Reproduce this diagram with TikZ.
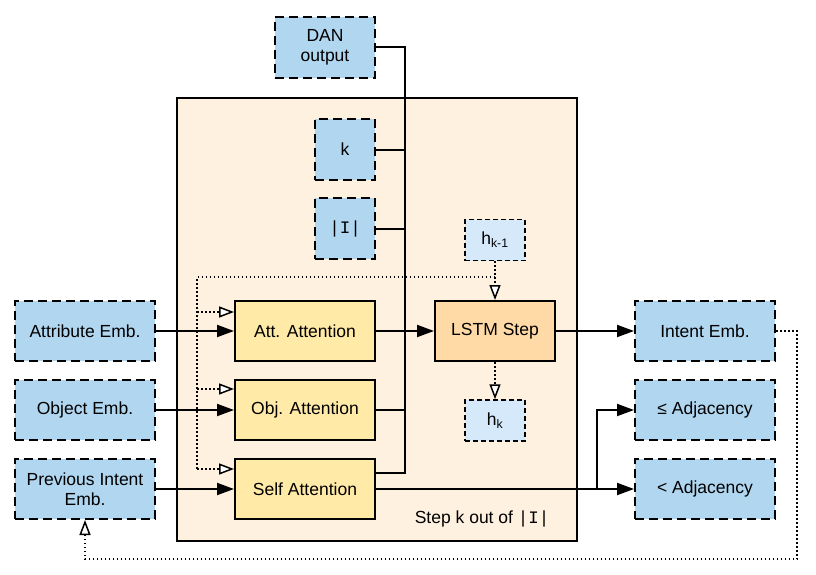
\documentclass[tikz,border=0pt]{standalone}
\usepackage{fontspec}
\setmainfont{Liberation Sans}
\setmonofont{Liberation Mono}
\usetikzlibrary{arrows.meta}

\definecolor{embblue}{HTML}{B1D6F0}
\definecolor{hidblue}{HTML}{D5E9FA}
\definecolor{attyellow}{HTML}{FFEAA7}
\definecolor{lstmorange}{HTML}{FFDAA6}
\definecolor{stepbg}{HTML}{FFF1E0}

\tikzstyle{emb} = [rectangle, minimum width=140pt, minimum height=60pt, text centered, align=center, draw=black, line width=2pt, dash pattern=on 9pt off 5pt, fill=embblue]
\tikzstyle{hid} = [rectangle, minimum width=60pt, minimum height=41pt, text centered, draw=black, line width=1.5pt, dash pattern=on 5pt off 3pt, fill=hidblue]
\tikzstyle{attn} = [rectangle, minimum width=140pt, minimum height=60pt, text centered, draw=black, line width=2pt, fill=attyellow]
\tikzstyle{line} = [line width=2pt]
\tikzstyle{arrow} = [line width=2pt, -{Triangle[length=17pt,width=12pt]}]
\tikzstyle{dotline} = [line width=1.5pt, dash pattern=on 1.5pt off 2.5pt]
\tikzstyle{dotarrow} = [dotline, -{Triangle[open,length=15pt,width=11pt,fill=white]}]

\begin{document}
\begin{tikzpicture}[x=1pt, y=-1pt, node distance=79pt, font=\fontsize{17.5}{20.5}\selectfont]
    \useasboundingbox (0,0) rectangle (816,575);
    \node (frame) [rectangle, draw=black, line width=2pt, fill=stepbg, minimum width=400pt, minimum height=443pt] at (377,319.5) {};
    \node (steplabel) [anchor=east] at (553,519) {Step k out of \texttt{|I|}};
    % inputs
    \node (dan) [emb, minimum width=100pt, minimum height=61pt] at (325,47.5) {DAN\\output};
    \node (k) [emb, minimum width=60pt, minimum height=61pt] at (345,149.5) {k};
    \node (card) [emb, minimum width=60pt, minimum height=61pt, below of=k] {\texttt{|I|}};
    \node (attemb) [emb] at (85,331) {Attribute Emb.};
    \node (objemb) [emb, below of=attemb] {Object Emb.};
    \node (prevemb) [emb, below of=objemb] {Previous Intent\\Emb.};
    % attention blocks
    \node (att) [attn] at (305,331) {Att. Attention};
    \node (obj) [attn, below of=att] {Obj. Attention};
    \node (self) [attn, below of=obj] {Self Attention};
    \node (lstm) [attn, fill=lstmorange, minimum width=120pt] at (495,331) {LSTM Step};
    \node (hprev) [hid] at (495,240) {h\textsubscript{k-1}};
    \node (hk) [hid] at (495,420.5) {h\textsubscript{k}};
    % outputs
    \node (intent) [emb] at (705,331) {Intent Emb.};
    \node (le) [emb, below of=intent] {≤ Adjacency};
    \node (lt) [emb, below of=le] {< Adjacency};
    % solid connectors
    \coordinate (busbot) at (405,473);
    \draw [line] (dan.east) -| (busbot) -- (busbot -| self.east);
    \draw [line] (k.east) -- (k.east -| busbot);
    \draw [line] (card.east) -- (card.east -| busbot);
    \draw [line] (obj.east) -- (obj.east -| busbot);
    \draw [arrow] (attemb) -- (att);
    \draw [arrow] (objemb) -- (obj);
    \draw [arrow] (prevemb) -- (self);
    \draw [arrow] (att) -- (lstm);
    \draw [arrow] (lstm) -- (intent);
    \draw [arrow] (self.east) -- (lt);
    \coordinate (split) at (597,489);
    \draw [arrow] (split) |- (le);
    % dotted hidden state
    \coordinate (hjoin) at (495,277);
    \coordinate (dleft) at (197,277);
    \coordinate (ain) at ([yshift=-12pt]att.north west);
    \coordinate (oin) at ([yshift=-10pt]obj.north west);
    \coordinate (sin) at ([yshift=-11pt]self.north west);
    \draw [dotarrow] (hprev) -- (lstm);
    \draw [dotline] (hjoin) -- (dleft) -- (dleft |- sin);
    \draw [dotarrow] (dleft |- ain) -- (ain);
    \draw [dotarrow] (dleft |- oin) -- (oin);
    \draw [dotarrow] (dleft |- sin) -- (sin);
    \draw [dotarrow] (lstm) -- (hk);
    \coordinate (loop) at (797,559);
    \draw [dotarrow] (intent.east) -| (loop) -| (prevemb.south);
\end{tikzpicture}
\end{document}
